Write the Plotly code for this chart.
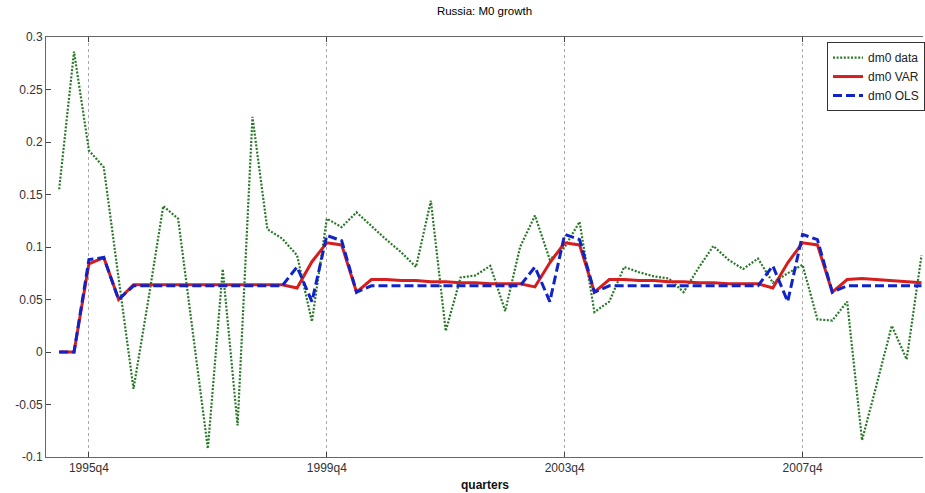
import plotly.graph_objects as go

# quarter labels 1995q2 .. 2009q4
quarters = [f"{y}q{q}" for y in range(1995, 2010) for q in range(1, 5)][1:]

dm0_data = [0.155, 0.286, 0.192, 0.176, 0.070, -0.035, 0.050, 0.139, 0.127, 0.018,
            -0.092, 0.079, -0.070, 0.224, 0.117, 0.108, 0.092, 0.029, 0.127, 0.119,
            0.133, 0.120, 0.107, 0.095, 0.081, 0.144, 0.020, 0.071, 0.073, 0.082,
            0.039, 0.100, 0.130, 0.088, 0.100, 0.124, 0.038, 0.048, 0.081, 0.076,
            0.072, 0.070, 0.057, 0.080, 0.101, 0.088, 0.079, 0.089, 0.066, 0.075,
            0.083, 0.031, 0.030, 0.048, -0.084, -0.030, 0.025, -0.007, 0.092]

dm0_var = [0.0, 0.0, 0.084, 0.090, 0.050, 0.064, 0.064, 0.064, 0.064, 0.064,
           0.064, 0.064, 0.064, 0.064, 0.064, 0.064, 0.061, 0.086, 0.104, 0.102,
           0.057, 0.069, 0.069, 0.068, 0.068, 0.067, 0.067, 0.066, 0.066, 0.065,
           0.065, 0.065, 0.062, 0.085, 0.104, 0.102, 0.057, 0.069, 0.069, 0.068,
           0.068, 0.067, 0.067, 0.066, 0.066, 0.065, 0.065, 0.065, 0.061, 0.085,
           0.104, 0.102, 0.057, 0.069, 0.070, 0.069, 0.068, 0.067, 0.066]

dm0_ols = [0.0, 0.0, 0.088, 0.090, 0.050, 0.063, 0.063, 0.063, 0.063, 0.063,
           0.063, 0.063, 0.063, 0.063, 0.063, 0.063, 0.081, 0.048, 0.111, 0.106,
           0.057, 0.063, 0.063, 0.063, 0.063, 0.063, 0.063, 0.063, 0.063, 0.063,
           0.063, 0.063, 0.081, 0.048, 0.112, 0.107, 0.057, 0.063, 0.063, 0.063,
           0.063, 0.063, 0.063, 0.063, 0.063, 0.063, 0.063, 0.063, 0.082, 0.048,
           0.112, 0.107, 0.057, 0.063, 0.063, 0.063, 0.063, 0.063, 0.063]

x_ticks = ["1995q4", "1999q4", "2003q4", "2007q4"]
y_ticks = [-0.1, -0.05, 0, 0.05, 0.1, 0.15, 0.2, 0.25, 0.3]
y_tick_labels = ["-0.1", "-0.05", "0", "0.05", "0.1", "0.15", "0.2", "0.25", "0.3"]

FONT = "Liberation Sans, Arial, sans-serif"

fig = go.Figure()
fig.add_trace(go.Scatter(x=quarters, y=dm0_data, mode="lines", name="dm0 data",
                         line=dict(color="rgb(40,120,40)", width=2.2, dash="2px,1.6px")))
fig.add_trace(go.Scatter(x=quarters, y=dm0_var, mode="lines", name="dm0 VAR",
                         line=dict(color="rgb(215,30,30)", width=3)))
fig.add_trace(go.Scatter(x=quarters, y=dm0_ols, mode="lines", name="dm0 OLS",
                         line=dict(color="rgb(15,35,200)", width=3, dash="9px,4px")))

fig.update_layout(
    width=925, height=493,
    margin=dict(l=46, r=0, t=37, b=36),
    paper_bgcolor="white", plot_bgcolor="white",
    font=dict(family=FONT, size=12, color="#222"),
    title=dict(text="Russia: M0 growth", x=0.5, xref="paper", xanchor="center",
               y=1 - 11 / 493, yref="container", yanchor="middle",
               font=dict(family=FONT, size=11.5, color="#000")),
    showlegend=True,
    legend=dict(x=0.891, xanchor="left", y=0.988, yanchor="top",
                bgcolor="white", bordercolor="#333", borderwidth=1,
                font=dict(family=FONT, size=12, color="#222"),
                tracegroupgap=0, itemwidth=30),
    xaxis=dict(type="category", range=[-0.886, 58.1],
               tickmode="array", tickvals=x_ticks, ticktext=x_ticks,
               ticks="inside", ticklen=5, tickcolor="#444",
               showline=True, linecolor="#666", linewidth=1, mirror="ticks",
               showgrid=True, gridcolor="#aaa", gridwidth=1, griddash="dot",
               zeroline=False, tickfont=dict(size=12, color="#333")),
    yaxis=dict(range=[-0.1, 0.3], tickmode="array", tickvals=y_ticks,
               ticktext=y_tick_labels, ticks="inside", ticklen=5, tickcolor="#444",
               showline=True, linecolor="#666", linewidth=1, mirror=False,
               showgrid=False, zeroline=False, tickfont=dict(size=12, color="#333")),
    annotations=[dict(text="<b>quarters</b>", x=0.5, xref="paper", xanchor="center",
                      y=(457 - 485) / 420, yref="paper", yanchor="middle",
                      showarrow=False, font=dict(family=FONT, size=12, color="#111"))],
)

fig.write_html("out.html", config={"displayModeBar": False},
               post_script="document.body.style.margin='0';document.body.style.overflow='hidden';")
